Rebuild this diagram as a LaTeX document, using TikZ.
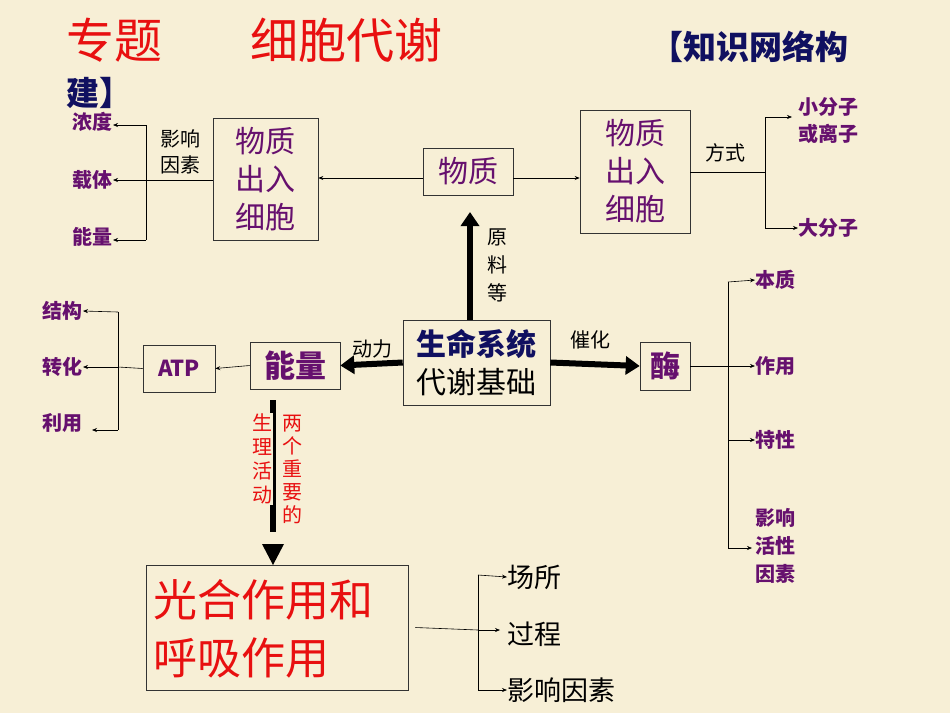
\documentclass[tikz,border=0pt]{standalone}
\usepackage{fontspec}
\setmainfont{Noto Sans CJK SC}
\usetikzlibrary{arrows.meta}
\definecolor{bg}{HTML}{F7EFD6}
\definecolor{pur}{HTML}{66106E}
\definecolor{navy}{HTML}{101060}
\definecolor{tred}{HTML}{E81010}
\begin{document}
\begin{tikzpicture}[x=1pt,y=-1pt,
  box/.style={draw=black!80,line width=0.6pt,inner sep=0pt},
  item/.style={text=pur,font=\fontsize{20}{22}\selectfont\bfseries,inner sep=0pt},
  thin/.style={line width=0.6pt,-{Stealth[length=5pt,width=4pt]}},
  ln/.style={line width=0.6pt},
  thick/.style={line width=6pt,-{Triangle[length=14pt,width=18pt]}},
  lbl/.style={font=\fontsize{20}{22}\selectfont,inner sep=0pt}]
\fill[bg] (0,0) rectangle (950,713);
\useasboundingbox (0,0) rectangle (950,713);
% title
\node[anchor=west,text=tred,font=\fontsize{48}{50}\selectfont,inner sep=0pt] (title) at (66,40) {专题};
\node[anchor=west,text=tred,font=\fontsize{48}{50}\selectfont,inner sep=0pt] (title2) at (250,40) {细胞代谢};
\node[anchor=west,text=navy,font=\fontsize{33}{35}\selectfont\bfseries,inner sep=0pt] (kw) at (650,47) {【知识网络构};
\node[anchor=west,text=navy,font=\fontsize{33}{35}\selectfont\bfseries,inner sep=0pt] (kw2) at (66,93) {建】};
% boxes
\node[box,minimum width=105,minimum height=122,text=pur,font=\fontsize{30}{38}\selectfont,align=center] (L) at (265.5,179) {物质\\出入\\细胞};
\node[box,minimum width=90,minimum height=47,text=pur,font=\fontsize{30}{32}\selectfont] (M) at (468,171.5) {物质};
\node[box,minimum width=110,minimum height=123,text=pur,font=\fontsize{30}{38}\selectfont,align=center] (R) at (635,171.5) {物质\\出入\\细胞};
\node[box,minimum width=147,minimum height=85,font=\fontsize{30}{38}\selectfont\bfseries,align=center] (C) at (476.5,362.5) {\textcolor{navy}{生命系统}\\\textcolor{black}{\mdseries 代谢基础}};
\node[box,minimum width=90,minimum height=47,text=pur,font=\fontsize{31}{33}\selectfont\bfseries] (E) at (295,365.5) {能量};
\node[box,minimum width=72,minimum height=47,text=pur,font=\fontsize{22}{24}\selectfont\bfseries\itshape] (A) at (179,368.5) {ATP};
\node[box,minimum width=50,minimum height=48,text=pur,font=\fontsize{30}{32}\selectfont\bfseries] (Z) at (665,366) {酶};
\node[box,minimum width=262,minimum height=125] (B) at (277,627.5) {};
\node[anchor=west,text=tred,font=\fontsize{44}{58}\selectfont,align=left,inner sep=0pt] (Bt) at (153,629) {光合作用和\\呼吸作用};
% top-left
\draw[thin] (M.west |- 0,178) -- (L.east |- 0,178);
\coordinate (lb) at (146,180);
\draw[ln] (L.west |- lb) -- (lb);
\draw[ln] (146,125) -- (146,240);
\node[item,anchor=east] (i1) at (113,122) {浓度};
\node[item,anchor=east] (i2) at (113,180) {载体};
\node[item,anchor=east] (i3) at (113,237) {能量};
\draw[thin] (146,125) -- (i1.east |- 0,125);
\draw[thin] (lb) -- (i2.east);
\draw[thin] (146,240) -- (i3.east |- 0,240);
\node[lbl,align=center,font=\fontsize{20}{26}\selectfont] (yx) at (180,152) {影响\\因素};
% top-right
\draw[thin] (M.east |- 0,178) -- (R.west |- 0,178);
\coordinate (rb) at (765,172);
\draw[ln] (R.east |- rb) -- (rb);
\draw[ln] (765,117) -- (765,228);
\node[item,anchor=west,align=center,font=\fontsize{20}{27}\selectfont\bfseries] (r1) at (798,121) {小分子\\或离子};
\node[item,anchor=west] (r2) at (798,228) {大分子};
\draw[thin] (765,117) -- (792,117);
\draw[thin] (765,228) -- (r2.west);
\node[lbl] (fs) at (725,153) {方式};
% center arrows
\draw[thick] (C.north -| 470,0) -- (470,212);
\node[lbl,align=center,font=\fontsize{20}{28}\selectfont] (yl) at (497,265) {原\\料\\等};
\draw[thick] (C.west) -- (E.east);
\node[lbl] (dl) at (372,349) {动力};
\draw[thick] (C.east) -- (Z.west);
\node[lbl] (ch) at (590,340) {催化};
% enzyme
\draw[ln] (Z.east) -- (728,366);
\draw[ln] (728,282) -- (728,548);
\node[item,anchor=west] (z1) at (755,280) {本质};
\node[item,anchor=west] (z2) at (755,366) {作用};
\node[item,anchor=west] (z3) at (755,440) {特性};
\node[item,anchor=west,align=center,font=\fontsize{20}{28}\selectfont\bfseries] (z4) at (755,546) {影响\\活性\\因素};
\draw[thin] (728,282) -- (z1.west);
\draw[thin] (728,366) -- (z2.west);
\draw[thin] (728,440) -- (z3.west);
\draw[thin] (728,548) -- (752,548);
% ATP
\draw[thin] (E.west) -- (A.east);
\draw[ln] (A.west) -- (118,367);
\draw[ln] (118,312) -- (118,430);
\node[item,anchor=east] (a1) at (83,311) {结构};
\node[item,anchor=east] (a2) at (83,367) {转化};
\node[item,anchor=east] (a3) at (83,423) {利用};
\draw[thin] (118,312) -- (a1.east);
\draw[thin] (118,367) -- (a2.east);
\draw[thin] (118,430) -- (92,430);
% down
\draw[line width=6pt] (273,400) -- (273,532);
\fill[black] (262,544) -- (284,544) -- (273,565) -- cycle;
\node[text=tred,fill=bg,inner sep=1pt,align=center,font=\fontsize{20}{24}\selectfont] (s1) at (262,459) {生\\理\\活\\动};
\node[text=tred,inner sep=0pt,align=center,font=\fontsize{20}{23}\selectfont] (s2) at (292,469) {两\\个\\重\\要\\的};
% bottom
\draw[ln] (B.east) ++(7,0) -- (478,630);
\draw[ln] (478,575) -- (478,690);
\node[lbl,anchor=west,font=\fontsize{27}{28}\selectfont] (b1) at (507,577) {场所};
\node[lbl,anchor=west,font=\fontsize{27}{28}\selectfont] (b2) at (507,634) {过程};
\node[lbl,anchor=west,font=\fontsize{27}{28}\selectfont] (b3) at (507,690) {影响因素};
\draw[thin] (478,575) -- (b1.west);
\draw[thin] (478,630) -- (500,630);
\draw[thin] (478,690) -- (b3.west);
\end{tikzpicture}
\end{document}
